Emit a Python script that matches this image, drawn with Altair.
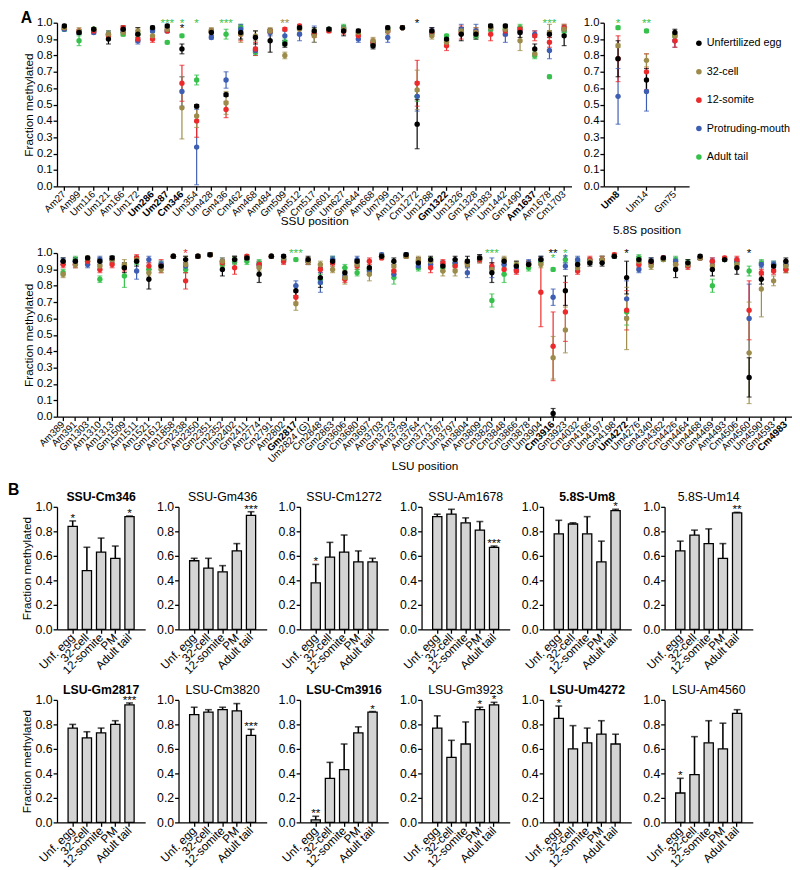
import json
import altair as alt
import pandas as pd

FONT = "Liberation Sans"

STAGES = ["Unfertilized egg", "32-cell", "12-somite", "Protruding-mouth", "Adult tail"]
STAGE_COLORS = ["#000000", "#9C8B4A", "#EC2A2C", "#3D5EB3", "#35C14B"]

# ---------------- Panel A : SSU ----------------
SSU_POS = ["Am27", "Am99", "Um116", "Um121", "Am166", "Um172", "Um286", "Um287", "Cm346", "Um354",
           "Um428", "Gm436", "Cm462", "Am468", "Am484", "Gm509", "Am512", "Cm517", "Gm601", "Um627",
           "Gm644", "Am668", "Um799", "Am1031", "Cm1272", "Um1288", "Gm1322", "Um1326", "Gm1328",
           "Am1383", "Um1442", "Gm1490", "Am1637", "Am1678", "Cm1703"]
SSU_BOLD = ["Um286", "Um287", "Cm346", "Gm1322", "Am1637"]
SSU_EGG = [0.98, 0.94, 0.96, 0.90, 0.96, 0.93, 0.97, 0.98, 0.84, 0.49, 0.94, 0.56, 0.94, 0.91, 0.89, 0.87, 0.97,
           0.95, 0.96, 0.95, 0.95, 0.86, 0.97, 0.97, 0.38, 0.95, 0.90, 0.93, 0.93, 0.98, 0.98, 0.94, 0.84, 0.93, 0.92]
SSU_EGG_SD = [0.01, 0.01, 0.01, 0.03, 0.02, 0.04, 0.01, 0.01, 0.03, 0.01, 0.02, 0.01, 0.04, 0.04, 0.07, 0.02, 0.01,
              0.02, 0.01, 0.03, 0.01, 0.02, 0.01, 0.01, 0.15, 0.02, 0.02, 0.04, 0.03, 0.01, 0.01, 0.03, 0.03, 0.02, 0.06]
SSU_C32 = [0.97, 0.95, 0.96, 0.93, 0.94, 0.95, 0.92, 0.96, 0.48, 0.43, 0.95, 0.51, 0.93, 0.92, 0.95, 0.80, 0.96,
           0.92, 0.96, 0.96, 0.94, 0.89, 0.95, 0.97, 0.59, 0.92, 0.88, 0.95, 0.94, 0.97, 0.96, 0.89, 0.81, 0.94, 0.96]
SSU_C32_SD = [0.01, 0.02, 0.01, 0.02, 0.02, 0.02, 0.02, 0.01, 0.19, 0.07, 0.02, 0.07, 0.05, 0.03, 0.02, 0.02, 0.02,
              0.04, 0.01, 0.02, 0.01, 0.02, 0.02, 0.01, 0.12, 0.02, 0.02, 0.02, 0.03, 0.02, 0.03, 0.06, 0.02, 0.05, 0.03]
SSU_S12 = [0.97, 0.95, 0.95, 0.92, 0.97, 0.90, 0.90, 0.95, 0.63, 0.40, 0.95, 0.47, 0.93, 0.84, 0.95, 0.96, 0.98,
           0.93, 0.95, 0.95, 0.92, 0.88, 0.95, 0.97, 0.63, 0.94, 0.86, 0.94, 0.94, 0.93, 0.95, 0.96, 0.92, 0.88, 0.97]
SSU_S12_SD = [0.01, 0.01, 0.01, 0.02, 0.01, 0.02, 0.02, 0.01, 0.11, 0.10, 0.01, 0.05, 0.04, 0.04, 0.01, 0.01, 0.01,
              0.02, 0.01, 0.02, 0.02, 0.02, 0.01, 0.01, 0.14, 0.02, 0.03, 0.04, 0.03, 0.04, 0.03, 0.02, 0.03, 0.03, 0.02]
SSU_PM = [0.96, 0.94, 0.94, 0.93, 0.95, 0.89, 0.95, 0.95, 0.58, 0.24, 0.91, 0.65, 0.96, 0.83, 0.94, 0.92, 0.93,
          0.93, 0.96, 0.96, 0.90, 0.87, 0.91, 0.97, 0.55, 0.95, 0.89, 0.96, 0.95, 0.97, 0.93, 0.95, 0.93, 0.83, 0.96]
SSU_PM_SD = [0.01, 0.01, 0.01, 0.02, 0.01, 0.02, 0.01, 0.01, 0.09, 0.23, 0.01, 0.05, 0.03, 0.02, 0.02, 0.03, 0.04,
             0.05, 0.01, 0.01, 0.02, 0.02, 0.03, 0.01, 0.09, 0.02, 0.02, 0.03, 0.04, 0.02, 0.05, 0.02, 0.02, 0.05, 0.02]
SSU_AT = [0.96, 0.89, 0.96, 0.93, 0.93, 0.93, 0.96, 0.88, 0.92, 0.65, 0.95, 0.93, 0.97, 0.82, 0.95, 0.88, 0.97,
          0.94, 0.96, 0.97, 0.93, 0.87, 0.96, 0.97, 0.55, 0.94, 0.92, 0.95, 0.92, 0.96, 0.96, 0.97, 0.80, 0.67, 0.95]
SSU_AT_SD = [0.01, 0.03, 0.01, 0.02, 0.01, 0.02, 0.01, 0.01, 0.01, 0.03, 0.01, 0.03, 0.02, 0.02, 0.01, 0.02, 0.01,
             0.02, 0.01, 0.02, 0.01, 0.02, 0.01, 0.01, 0.03, 0.01, 0.01, 0.02, 0.02, 0.01, 0.01, 0.02, 0.02, 0.01, 0.02]
SSU_STARS = [("Um287", "***", "Adult tail", 0), ("Cm346", "*", "Adult tail", 0), ("Cm346", "*", "Unfertilized egg", 1),
             ("Um354", "*", "Adult tail", 0), ("Gm436", "***", "Adult tail", 0), ("Gm509", "**", "32-cell", 0),
             ("Cm1272", "*", "Unfertilized egg", 0), ("Am1678", "***", "Adult tail", 0)]

# ---------------- Panel A : 5.8S ----------------
S58_POS = ["Um8", "Um14", "Gm75"]
S58_BOLD = ["Um8"]
S58_EGG = [0.78, 0.65, 0.94]
S58_EGG_SD = [0.11, 0.07, 0.02]
S58_C32 = [0.86, 0.77, 0.92]
S58_C32_SD = [0.01, 0.04, 0.01]
S58_S12 = [0.78, 0.70, 0.89]
S58_S12_SD = [0.14, 0.11, 0.04]
S58_PM = [0.55, 0.58, 0.89]
S58_PM_SD = [0.17, 0.12, 0.04]
S58_AT = [0.97, 0.95, 0.92]
S58_AT_SD = [0.01, 0.01, 0.01]
S58_STARS = [("Um8", "*", "Adult tail", 0), ("Um14", "**", "Adult tail", 0)]

# ---------------- Panel A : LSU ----------------
LSU_POS = ["Am389", "Am391", "Gm1303", "Am1310", "Am1313", "Gm1509", "Am1511", "Am1521", "Gm1612", "Am1858",
           "Cm2338", "Am2350", "Gm2351", "Cm2352", "Um2402", "Gm2411", "Am2774", "Cm2791", "Am2802", "Gm2817",
           "Um2824 (G)", "Cm2848", "Gm2863", "Gm3606", "Cm3680", "Am3697", "Am3703", "Gm3723", "Am3739", "Am3764",
           "Gm3771", "Cm3787", "Um3797", "Am3804", "Am3809", "Cm3820", "Cm3848", "Cm3866", "Gm3878", "Um3904",
           "Cm3916", "Gm3923", "Cm4032", "Gm4166", "Um4197", "Gm4198", "Um4272", "Um4276", "Gm4340", "Gm4362",
           "Cm4426", "Gm4464", "Um4468", "Gm4469", "Am4493", "Cm4506", "Am4560", "Um4590", "Gm4593", "Cm4983"]
LSU_BOLD = ["Gm2817", "Cm3916", "Um4272", "Cm4983"]
LSU_EGG = [0.95, 0.95, 0.97, 0.95, 0.97, 0.91, 0.95, 0.84, 0.92, 0.98, 0.96, 0.98, 0.99, 0.90, 0.96, 0.97, 0.87, 0.98,
           0.98, 0.77, 0.96, 0.85, 0.95, 0.88, 0.95, 0.91, 0.98, 0.95, 0.99, 0.94, 0.96, 0.92, 0.96, 0.95, 0.97, 0.88,
           0.95, 0.92, 0.93, 0.96, 0.02, 0.77, 0.93, 0.94, 0.94, 0.98, 0.85, 0.96, 0.95, 0.97, 0.90, 0.94, 0.98, 0.90,
           0.96, 0.91, 0.24, 0.84, 0.92, 0.95]
LSU_EGG_SD = [0.02, 0.02, 0.01, 0.02, 0.01, 0.03, 0.03, 0.06, 0.02, 0.01, 0.02, 0.01, 0.01, 0.04, 0.02, 0.01, 0.05,
              0.01, 0.01, 0.03, 0.02, 0.06, 0.02, 0.03, 0.01, 0.04, 0.01, 0.02, 0.01, 0.03, 0.02, 0.03, 0.02, 0.03,
              0.02, 0.06, 0.02, 0.03, 0.02, 0.02, 0.03, 0.09, 0.02, 0.02, 0.02, 0.01, 0.10, 0.02, 0.02, 0.01, 0.05,
              0.02, 0.01, 0.04, 0.01, 0.04, 0.12, 0.03, 0.02, 0.02]
LSU_C32 = [0.87, 0.93, 0.97, 0.92, 0.96, 0.93, 0.96, 0.88, 0.90, 0.98, 0.93, 0.98, 0.99, 0.95, 0.96, 0.97, 0.91, 0.98,
           0.97, 0.69, 0.95, 0.93, 0.90, 0.85, 0.93, 0.87, 0.98, 0.92, 0.98, 0.96, 0.95, 0.89, 0.89, 0.93, 0.97, 0.90,
           0.96, 0.93, 0.93, 0.93, 0.36, 0.53, 0.91, 0.95, 0.96, 0.98, 0.60, 0.95, 0.92, 0.96, 0.93, 0.93, 0.97, 0.92,
           0.96, 0.93, 0.39, 0.78, 0.83, 0.92]
LSU_C32_SD = [0.02, 0.02, 0.01, 0.02, 0.02, 0.03, 0.02, 0.02, 0.02, 0.01, 0.05, 0.01, 0.01, 0.02, 0.02, 0.01, 0.02,
              0.01, 0.01, 0.04, 0.02, 0.02, 0.02, 0.04, 0.02, 0.04, 0.01, 0.02, 0.01, 0.02, 0.02, 0.03, 0.03, 0.02,
              0.01, 0.02, 0.02, 0.02, 0.02, 0.02, 0.13, 0.14, 0.02, 0.02, 0.02, 0.01, 0.19, 0.02, 0.02, 0.01, 0.02,
              0.02, 0.01, 0.02, 0.01, 0.02, 0.31, 0.17, 0.03, 0.02]
LSU_S12 = [0.93, 0.93, 0.95, 0.90, 0.93, 0.91, 0.97, 0.92, 0.92, 0.98, 0.83, 0.98, 0.99, 0.94, 0.91, 0.98, 0.93, 0.98,
           0.95, 0.73, 0.95, 0.90, 0.94, 0.84, 0.92, 0.95, 0.97, 0.89, 0.98, 0.95, 0.91, 0.94, 0.92, 0.94, 0.96, 0.92,
           0.90, 0.89, 0.93, 0.76, 0.43, 0.64, 0.89, 0.96, 0.96, 0.99, 0.65, 0.93, 0.94, 0.97, 0.93, 0.92, 0.97, 0.95,
           0.97, 0.96, 0.65, 0.88, 0.89, 0.90]
LSU_S12_SD = [0.02, 0.02, 0.02, 0.02, 0.02, 0.02, 0.02, 0.02, 0.04, 0.01, 0.05, 0.01, 0.01, 0.02, 0.04, 0.01, 0.02,
              0.01, 0.02, 0.03, 0.02, 0.02, 0.02, 0.02, 0.02, 0.02, 0.01, 0.02, 0.01, 0.02, 0.03, 0.02, 0.02, 0.02,
              0.02, 0.02, 0.03, 0.02, 0.02, 0.21, 0.21, 0.18, 0.02, 0.02, 0.02, 0.01, 0.12, 0.02, 0.02, 0.01, 0.02,
              0.02, 0.01, 0.02, 0.01, 0.02, 0.18, 0.02, 0.02, 0.02]
LSU_PM = [0.95, 0.95, 0.93, 0.96, 0.96, 0.92, 0.89, 0.96, 0.93, 0.98, 0.92, 0.98, 0.99, 0.95, 0.96, 0.97, 0.93, 0.98,
          0.96, 0.80, 0.95, 0.82, 0.96, 0.86, 0.96, 0.89, 0.99, 0.87, 0.99, 0.92, 0.93, 0.93, 0.94, 0.88, 0.97, 0.91,
          0.93, 0.90, 0.94, 0.96, 0.73, 0.92, 0.96, 0.95, 0.96, 0.98, 0.72, 0.90, 0.95, 0.97, 0.95, 0.93, 0.97, 0.95,
          0.96, 0.95, 0.60, 0.93, 0.93, 0.93]
LSU_PM_SD = [0.02, 0.02, 0.02, 0.02, 0.02, 0.02, 0.05, 0.02, 0.02, 0.01, 0.02, 0.01, 0.01, 0.02, 0.02, 0.01, 0.02,
             0.01, 0.02, 0.03, 0.02, 0.06, 0.02, 0.02, 0.02, 0.02, 0.01, 0.02, 0.01, 0.02, 0.02, 0.02, 0.02, 0.03,
             0.02, 0.06, 0.02, 0.02, 0.02, 0.02, 0.05, 0.02, 0.02, 0.02, 0.02, 0.01, 0.11, 0.02, 0.02, 0.01, 0.02,
             0.02, 0.01, 0.02, 0.01, 0.02, 0.21, 0.02, 0.02, 0.02]
LSU_AT = [0.88, 0.96, 0.95, 0.84, 0.96, 0.86, 0.95, 0.90, 0.93, 0.98, 0.90, 0.98, 0.99, 0.93, 0.95, 0.95, 0.94, 0.98,
          0.96, 0.96, 0.95, 0.84, 0.96, 0.91, 0.88, 0.90, 0.98, 0.85, 0.98, 0.91, 0.95, 0.91, 0.93, 0.94, 0.96, 0.71,
          0.87, 0.92, 0.91, 0.95, 0.90, 0.96, 0.95, 0.95, 0.96, 0.98, 0.64, 0.97, 0.94, 0.96, 0.96, 0.94, 0.97, 0.80,
          0.96, 0.94, 0.89, 0.94, 0.93, 0.90]
LSU_AT_SD = [0.02, 0.02, 0.02, 0.02, 0.02, 0.07, 0.02, 0.02, 0.02, 0.01, 0.02, 0.01, 0.01, 0.02, 0.02, 0.02, 0.02,
             0.01, 0.02, 0.01, 0.02, 0.03, 0.02, 0.02, 0.02, 0.02, 0.01, 0.04, 0.01, 0.02, 0.02, 0.02, 0.02, 0.02,
             0.02, 0.04, 0.05, 0.02, 0.02, 0.02, 0.01, 0.02, 0.02, 0.02, 0.02, 0.01, 0.08, 0.02, 0.02, 0.01, 0.02,
             0.02, 0.01, 0.04, 0.01, 0.02, 0.03, 0.02, 0.02, 0.02]
LSU_STARS = [("Cm2338", "*", "12-somite", 0), ("Gm2817", "***", "Adult tail", 0), ("Cm3820", "***", "Adult tail", 0),
             ("Cm3916", "**", "Unfertilized egg", 0), ("Cm3916", "*", "Adult tail", 1),
             ("Gm3923", "*", "Adult tail", 0), ("Gm3923", "*", "Protruding-mouth", 1),
             ("Um4272", "*", "Unfertilized egg", 0), ("Am4560", "*", "Unfertilized egg", 0)]

# ---------------- Panel B ----------------
B_STAGES = ["Unf. egg", "32-cell", "12-somite", "PM", "Adult tail"]
B_NAMES = ["SSU-Cm346", "SSU-Gm436", "SSU-Cm1272", "SSU-Am1678", "5.8S-Um8", "5.8S-Um14",
           "LSU-Gm2817", "LSU-Cm3820", "LSU-Cm3916", "LSU-Gm3923", "LSU-Um4272", "LSU-Am4560"]
B_BOLD = ["SSU-Cm346", "5.8S-Um8", "LSU-Gm2817", "LSU-Cm3916", "LSU-Um4272"]
B_MEAN = [[0.84, 0.48, 0.63, 0.58, 0.92], [0.56, 0.50, 0.47, 0.64, 0.93], [0.38, 0.59, 0.63, 0.55, 0.55],
          [0.92, 0.94, 0.87, 0.81, 0.67], [0.78, 0.86, 0.78, 0.55, 0.97], [0.64, 0.77, 0.70, 0.58, 0.95],
          [0.77, 0.69, 0.73, 0.80, 0.96], [0.88, 0.90, 0.92, 0.91, 0.71], [0.02, 0.36, 0.43, 0.73, 0.90],
          [0.77, 0.53, 0.64, 0.92, 0.96], [0.85, 0.60, 0.65, 0.72, 0.64], [0.24, 0.39, 0.65, 0.60, 0.89]]
B_TOP = [[0.885, 0.67, 0.745, 0.68, 0.925], [0.58, 0.58, 0.52, 0.70, 0.96], [0.53, 0.71, 0.77, 0.64, 0.58],
         [0.94, 0.98, 0.91, 0.88, 0.68], [0.89, 0.87, 0.92, 0.72, 0.98], [0.72, 0.81, 0.82, 0.70, 0.955],
         [0.80, 0.74, 0.77, 0.83, 0.975], [0.94, 0.92, 0.94, 0.97, 0.76], [0.05, 0.49, 0.64, 0.78, 0.905],
         [0.87, 0.67, 0.82, 0.94, 0.98], [0.95, 0.79, 0.77, 0.83, 0.72], [0.36, 0.70, 0.83, 0.81, 0.92]]
B_STARS = [["*", "", "", "", "*"], ["", "", "", "", "***"], ["*", "", "", "", ""], ["", "", "", "", "***"],
           ["", "", "", "", "*"], ["", "", "", "", "**"], ["", "", "", "", "***"], ["", "", "", "", "***"],
           ["**", "", "", "", "*"], ["", "", "", "*", "*"], ["*", "", "", "", ""], ["*", "", "", "", ""]]

COLOR = alt.Color("stage:N", scale=alt.Scale(domain=STAGES, range=STAGE_COLORS), legend=None)


def long_table(positions, means, sds):
    rows = []
    # draw order: adult tail first, unfertilized egg (black) last / on top
    for s_idx in [4, 3, 2, 1, 0]:
        for p, m, sd in zip(positions, means[s_idx], sds[s_idx]):
            rows.append({"pos": p, "stage": STAGES[s_idx], "mean": m,
                         "lo": max(m - sd, 0.0), "hi": min(m + sd, 1.0)})
    return pd.DataFrame(rows)


def star_table(stars):
    return pd.DataFrame([{"pos": p, "txt": t, "stage": s, "level": lv} for p, t, s, lv in stars])


def text_label(text, dx, dy, size=16, weight="bold", align="left"):
    return alt.Chart(pd.DataFrame({"t": [text]})).mark_text(
        fontSize=size, fontWeight=weight, align=align, baseline="alphabetic",
        color="black").encode(x=alt.value(dx), y=alt.value(dy), text="t:N")


def dot_panel(df, stars, positions, bold, width, xtitle, title_y, show_ytitle, label=None):
    bold_test = "indexof(%s, datum.value) >= 0" % json.dumps(bold)
    x = alt.X("pos:N", sort=positions, scale=alt.Scale(paddingInner=0, paddingOuter=0),
              axis=alt.Axis(title=xtitle, labelAngle=-45, labelAlign="right", labelBaseline="middle",
                            labelFontSize=10, labelPadding=2, titleFontSize=12, titleY=title_y,
                            titleBaseline="alphabetic",
                            labelFontWeight={"condition": {"test": bold_test, "value": "bold"},
                                             "value": "normal"}))
    yscale = alt.Scale(domain=[0, 1], nice=False)
    yaxis = alt.Axis(values=[i / 10 for i in range(11)], format=".1f", labelFontSize=11.5,
                     labelOverlap=False, labelFlush=False, tickCount=11, labelPadding=1,
                     title="Fraction methylated" if show_ytitle else None, titleFontSize=12,
                     titlePadding=1)
    base = alt.Chart(df)
    rules = base.mark_rule(strokeWidth=1.2).encode(x=x, y=alt.Y("lo:Q", scale=yscale, axis=yaxis),
                                                   y2="hi:Q", color=COLOR)
    cap_lo = base.mark_tick(size=5, thickness=1.2).encode(
        x=x, y=alt.Y("lo:Q", scale=yscale, axis=yaxis), color=COLOR)
    cap_hi = base.mark_tick(size=5, thickness=1.2).encode(
        x=x, y=alt.Y("hi:Q", scale=yscale, axis=yaxis), color=COLOR)
    pts = base.mark_circle(size=30, opacity=1).encode(
        x=x, y=alt.Y("mean:Q", scale=yscale, axis=yaxis), color=COLOR)
    st = alt.Chart(stars).transform_calculate(sy="datum.level == 0 ? 0.976 : 0.946").mark_text(
        fontSize=12, baseline="alphabetic", align="center").encode(
        x=x, y=alt.Y("sy:Q", scale=yscale, axis=yaxis), text="txt:N", color=COLOR)
    layers = [rules, cap_lo, cap_hi, pts, st]
    if label:
        layers.append(text_label(label, -37, 0))
    return alt.layer(*layers).properties(width=width, height=167)


ssu = dot_panel(long_table(SSU_POS, [SSU_EGG, SSU_C32, SSU_S12, SSU_PM, SSU_AT],
                           [SSU_EGG_SD, SSU_C32_SD, SSU_S12_SD, SSU_PM_SD, SSU_AT_SD]),
                star_table(SSU_STARS), SSU_POS, SSU_BOLD, 15 * len(SSU_POS), "SSU position", 39, True, "A")
s58 = dot_panel(long_table(S58_POS, [S58_EGG, S58_C32, S58_S12, S58_PM, S58_AT],
                           [S58_EGG_SD, S58_C32_SD, S58_S12_SD, S58_PM_SD, S58_AT_SD]),
                star_table(S58_STARS), S58_POS, S58_BOLD, 87, "5.8S position", 48, False)
lsu = dot_panel(long_table(LSU_POS, [LSU_EGG, LSU_C32, LSU_S12, LSU_PM, LSU_AT],
                           [LSU_EGG_SD, LSU_C32_SD, LSU_S12_SD, LSU_PM_SD, LSU_AT_SD]),
                star_table(LSU_STARS), LSU_POS, LSU_BOLD, 12.5 * len(LSU_POS), "LSU position", 54, True)

# legend drawn as a small chart (placed 33 px right of the 5.8S plot by the concat spacing)
leg_df = pd.DataFrame({"stage": STAGES, "i": list(range(len(STAGES)))})
leg_y = alt.Y("i:Q", scale=alt.Scale(domain=[-0.72, 5.03], reverse=True), axis=None)
leg_pts = alt.Chart(leg_df).mark_circle(size=32, opacity=1).encode(x=alt.value(-23), y=leg_y, color=COLOR)
leg_txt = alt.Chart(leg_df).mark_text(align="left", baseline="middle", fontSize=11, color="black").encode(
    x=alt.value(-15), y=leg_y, text="stage:N")
legend = alt.layer(leg_pts, leg_txt).properties(width=60, height=167)


def bar_panel(k, first, label=None):
    df = pd.DataFrame({"stage": B_STAGES, "mean": B_MEAN[k], "top": B_TOP[k], "star": B_STARS[k]})
    x = alt.X("stage:N", sort=B_STAGES, scale=alt.Scale(paddingInner=0.35, paddingOuter=0.78),
              axis=alt.Axis(title=None, labelAngle=-45, labelAlign="right", labelBaseline="middle",
                            labelFontSize=12, labelPadding=2))
    yscale = alt.Scale(domain=[0, 1], nice=False)
    yaxis = alt.Axis(values=[0, 0.2, 0.4, 0.6, 0.8, 1.0], format=".1f", labelFontSize=12.5,
                     labelOverlap=False, labelFlush=False, tickCount=6, labelPadding=1,
                     title="Fraction methylated" if first else None, titleFontSize=12, titlePadding=2)
    base = alt.Chart(df)
    err = base.mark_rule(strokeWidth=1.6, color="black").encode(
        x=x, y=alt.Y("mean:Q", scale=yscale, axis=yaxis), y2="top:Q")
    cap = base.mark_tick(size=7, thickness=1.6, color="black").encode(
        x=x, y=alt.Y("top:Q", scale=yscale, axis=yaxis))
    bars = base.mark_bar(fill="#D4D4D4", stroke="black", strokeWidth=1.3).encode(
        x=x, y=alt.Y("mean:Q", scale=yscale, axis=yaxis))
    st = base.mark_text(fontSize=12, baseline="bottom", dy=4, color="black").encode(
        x=x, y=alt.Y("top:Q", scale=yscale, axis=yaxis), text="star:N")
    name = B_NAMES[k]
    ttl = text_label(name, 45, -6, size=12.5, weight="bold" if name in B_BOLD else "normal", align="center")
    layers = [err, cap, bars, st, ttl]
    if label:
        layers.append(text_label(label, -50, -12))
    return alt.layer(*layers).properties(width=90, height=125)


row_a1 = alt.hconcat(ssu, s58, legend, spacing=33, bounds="flush")
row_b1 = alt.hconcat(*[bar_panel(k, k == 0, "B" if k == 0 else None) for k in range(6)],
                     spacing=34, bounds="flush")
row_b2 = alt.hconcat(*[bar_panel(k, k == 6) for k in range(6, 12)],
                     spacing=34, bounds="flush")

part_a = alt.concat(row_a1, lsu, columns=1, align="none", spacing=12)
part_b = alt.concat(row_b1, row_b2, columns=1, align="none", spacing=8)

chart = alt.concat(part_a, part_b, columns=1, align="none", spacing=11).properties(
    padding={"left": 0, "top": -7, "right": 0, "bottom": 14}
).configure(font=FONT).configure_view(stroke=None).configure_axis(
    domainColor="black", domainWidth=1.3, tickColor="black", tickWidth=1.3, tickSize=4,
    labelColor="black", titleColor="black", labelFont=FONT, titleFont=FONT, titleFontWeight="normal",
    grid=False, labelOverlap=False
)

chart.save("out.html", embed_options={"renderer": "svg", "actions": False})
